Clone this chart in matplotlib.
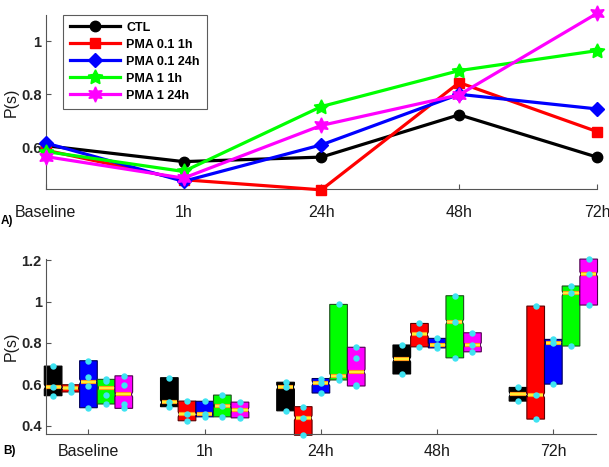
import numpy as np
import matplotlib
matplotlib.use("Agg")
import matplotlib.pyplot as plt
from matplotlib.patches import Polygon

plt.rcParams['font.family'] = ['Liberation Sans', 'DejaVu Sans']

# ---------------- data ----------------
timepoints = ["Baseline", "1h", "24h", "48h", "72h"]
series_names = ["CTL", "PMA 0.1 1h", "PMA 0.1 24h", "PMA 1 1h", "PMA 1 24h"]
series_colors = ["#000000", "#ff0000", "#0000ff", "#00ff00", "#ff00ff"]

# Panel A: mean P(s)
mean_ctl = [0.607, 0.547, 0.564, 0.723, 0.564]
mean_pma01_1h = [0.590, 0.479, 0.441, 0.844, 0.660]
mean_pma01_24h = [0.617, 0.473, 0.610, 0.800, 0.745]
mean_pma1_1h = [0.585, 0.510, 0.754, 0.889, 0.964]
mean_pma1_24h = [0.566, 0.485, 0.683, 0.798, 1.104]

# Panel B: individual values per timepoint
pts_ctl = [[0.545, 0.588, 0.688], [0.492, 0.513, 0.632], [0.472, 0.587, 0.610],
           [0.650, 0.790], [0.519, 0.585]]
pts_pma01_1h = [[0.563, 0.580, 0.598], [0.424, 0.455, 0.519], [0.354, 0.438, 0.492],
                [0.781, 0.841, 0.894], [0.432, 0.547, 0.978]]
pts_pma01_24h = [[0.487, 0.593, 0.634, 0.714], [0.443, 0.455, 0.518], [0.558, 0.605, 0.628],
                 [0.776, 0.790, 0.822], [0.601, 0.801, 0.817]]
pts_pma1_1h = [[0.505, 0.548, 0.618, 0.624], [0.443, 0.497, 0.548], [0.621, 0.640, 0.986],
               [0.728, 0.902, 1.028], [0.785, 1.039, 1.075]]
pts_pma1_24h = [[0.484, 0.505, 0.597, 0.641], [0.438, 0.476, 0.514], [0.592, 0.597, 0.725, 0.779],
                [0.757, 0.790, 0.849], [0.983, 1.132, 1.205]]

means = [mean_ctl, mean_pma01_1h, mean_pma01_24h, mean_pma1_1h, mean_pma1_24h]
points = [pts_ctl, pts_pma01_1h, pts_pma01_24h, pts_pma1_1h, pts_pma1_24h]
markers = ["o", "s", "D", (5, 1, 0), (6, 1, 0)]
msizes = [7.5, 6.5, 7.5, 11, 11]

W, H = 609, 467
fig = plt.figure(figsize=(W / 100, H / 100), dpi=100)

axis_col = "#262626"

def style_axes(ax):
    for s in ["top", "right"]:
        ax.spines[s].set_visible(False)
    for s in ["left", "bottom"]:
        ax.spines[s].set_color("#555555")
        ax.spines[s].set_linewidth(0.8)
    ax.tick_params(direction="in", length=3.5, width=0.8, color="#555555")
    for lab in ax.get_yticklabels():
        lab.set_fontweight("bold")
        lab.set_color(axis_col)
        lab.set_fontsize(10.5)
    for lab in ax.get_xticklabels():
        lab.set_color("#1a1a1a")
        lab.set_fontsize(11.5)

# ---------------- Panel A ----------------
axA = fig.add_axes([45.7 / W, 1 - 189.3 / H, (597 - 45.7) / W, (189.3 - 15) / H])
x = np.arange(len(timepoints))
for vals, name, col, mk, ms in zip(means, series_names, series_colors, markers, msizes):
    axA.plot(x, vals, color=col, lw=2.3, marker=mk, ms=ms, mfc=col, mec=col,
             label=name, clip_on=False, zorder=3)
axA.set_xlim(0, 4)
axA.set_ylim(0.443, 1.098)
axA.set_xticks(x)
axA.set_xticklabels(timepoints)
axA.set_yticks([0.6, 0.8, 1.0])
axA.set_yticklabels(["0.6", "0.8", "1"])
axA.tick_params(axis="x", pad=11)
axA.tick_params(axis="y", pad=3)
style_axes(axA)
axA.set_ylabel("P(s)", fontsize=11.5, color="#1a1a1a")
axA.yaxis.set_label_coords(-0.049, 0.5)
leg = axA.legend(loc="upper left", bbox_to_anchor=((63 - 45.7) / (597 - 45.7), 1.0),
                 prop={"weight": "bold", "size": 9}, handlelength=4.0,
                 handletextpad=0.5, borderpad=0.55, labelspacing=0.4,
                 frameon=True, fancybox=False, borderaxespad=0.0)
leg.get_frame().set_edgecolor("#333333")
leg.get_frame().set_linewidth(0.8)

fig.text(1 / W, 1 - 221 / H, "A)", fontsize=8.5, fontweight="bold", va="center", ha="left")

# ---------------- Panel B ----------------
axB = fig.add_axes([45.8 / W, 1 - 434 / H, (596 - 45.8) / W, (434 - 259.3) / H])
box_w = 0.152
offsets = (np.arange(5) - 2) * box_w
groups = np.arange(1, 6)
edge_cols = ["#000000", "#5a0000", "#00005a", "#1d4d1d", "#4d004d"]
for si, (pts, col, ecol) in enumerate(zip(points, series_colors, edge_cols)):
    for gi, vals in enumerate(pts):
        vals = np.array(vals)
        lo, hi, med = vals.min(), vals.max(), np.median(vals)
        cx = groups[gi] + offsets[si]
        l, r = cx - box_w / 2, cx + box_w / 2
        d = box_w * 0.07
        h = 0.012
        top_n = min(med + h, hi)
        bot_n = max(med - h, lo)
        poly = [(l, lo), (r, lo), (r, bot_n), (r - d, med), (r, top_n), (r, hi),
                (l, hi), (l, top_n), (l + d, med), (l, bot_n)]
        axB.add_patch(Polygon(poly, closed=True, facecolor=col, edgecolor=ecol,
                              lw=0.8, clip_on=False, zorder=2))
        axB.plot([l + d, r - d], [med, med], color="#ff9a1a", lw=3.0,
                 solid_capstyle="butt", zorder=3, clip_on=False)
        axB.plot([l + d, r - d], [med, med], color="#ffee33", lw=1.5,
                 solid_capstyle="butt", zorder=4, clip_on=False)
        axB.plot(np.full(len(vals), cx), vals, "o", color="#3fe3f2", ms=4.6,
                 mec="none", zorder=5, clip_on=False)
axB.set_xlim(0.633, 5.367)
axB.set_ylim(0.36, 1.204)
axB.set_xticks(groups)
axB.set_xticklabels(timepoints)
axB.set_yticks([0.4, 0.6, 0.8, 1.0, 1.2])
axB.set_yticklabels(["0.4", "0.6", "0.8", "1", "1.2"])
axB.tick_params(axis="x", pad=7)
axB.tick_params(axis="y", pad=3)
style_axes(axB)
axB.set_ylabel("P(s)", fontsize=11.5, color="#1a1a1a")
axB.yaxis.set_label_coords(-0.049, 0.5)

fig.text(3 / W, 1 - 451 / H, "B)", fontsize=8.5, fontweight="bold", va="center", ha="left")

fig.savefig("out.png", dpi=100)
